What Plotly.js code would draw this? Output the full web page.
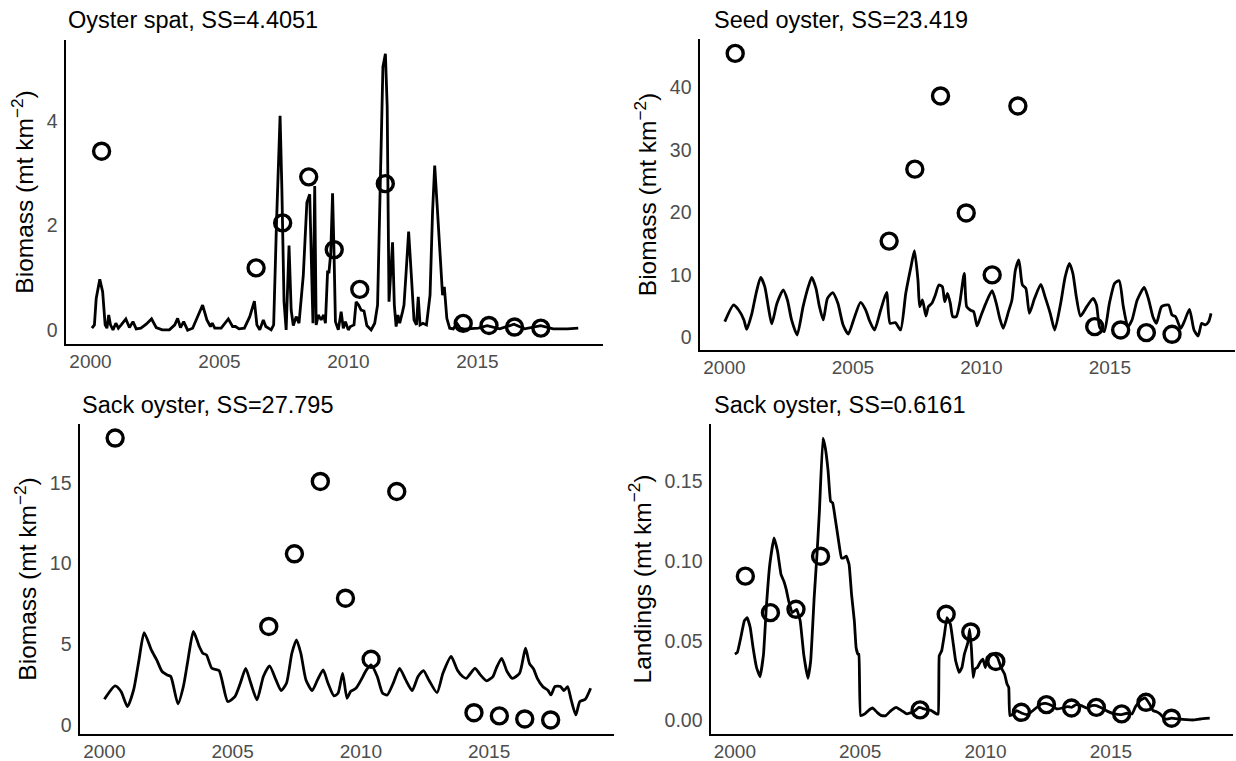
<!DOCTYPE html>
<html><head><meta charset="utf-8">
<script src="https://cdn.plot.ly/plotly-3.0.1.min.js"></script>
<style>html,body{margin:0;padding:0;background:#fff;}#chart{width:1236px;height:761px;}</style>
</head><body><div id="chart"></div>
<script>
// ---------- Panel 1: Oyster spat (biomass) ----------
const spatLineYear = [2000.055,2000.152,2000.221,2000.360,2000.471,2000.568,2000.637,2000.706,2000.775,2000.872,2000.983,2001.080,2001.190,2001.370,2001.509,2001.647,2001.772,2001.952,2002.159,2002.367,2002.547,2002.782,2003.059,2003.267,2003.378,2003.488,2003.613,2003.765,2003.959,2004.167,2004.347,2004.513,2004.651,2004.720,2004.817,2005.066,2005.343,2005.509,2005.620,2005.759,2005.966,2006.174,2006.354,2006.451,2006.562,2006.700,2006.797,2007.004,2007.101,2007.212,2007.281,2007.350,2007.420,2007.503,2007.586,2007.697,2007.780,2007.863,2007.973,2008.084,2008.250,2008.389,2008.499,2008.569,2008.624,2008.693,2008.749,2008.832,2008.942,2009.039,2009.108,2009.191,2009.247,2009.316,2009.385,2009.441,2009.496,2009.607,2009.718,2009.801,2009.884,2009.994,2010.078,2010.216,2010.299,2010.396,2010.493,2010.604,2010.714,2010.880,2011.019,2011.130,2011.226,2011.337,2011.434,2011.503,2011.573,2011.642,2011.711,2011.780,2011.849,2011.919,2011.988,2012.099,2012.154,2012.237,2012.334,2012.431,2012.542,2012.638,2012.707,2012.777,2012.888,2013.026,2013.164,2013.261,2013.345,2013.441,2013.580,2013.649,2013.718,2013.815,2013.926,2014.064,2014.203,2014.341,2014.480,2015.033,2015.379,2015.864,2016.418,2016.833,2017.456,2017.940,2018.494,2018.910];
const spatLineValue = [0.038,0.101,0.607,0.973,0.733,0.101,0.038,0.291,0.101,0.006,0.133,0.038,0.101,0.215,0.051,0.164,0.025,0.038,0.114,0.215,0.051,0.006,0.006,0.101,0.227,0.051,0.164,0.0,0.038,0.291,0.480,0.196,0.070,0.133,0.038,0.038,0.215,0.070,0.070,0.025,0.038,0.259,0.556,0.101,0.006,0.196,0.070,0.006,0.101,2.060,3.008,4.095,2.692,0.543,0.006,1.618,0.385,0.088,0.259,0.133,1.049,2.439,2.597,1.112,0.133,2.755,0.101,0.291,0.196,0.291,0.133,1.112,1.112,1.491,2.616,1.491,0.164,0.006,0.354,0.038,0.164,0.006,0.070,0.101,0.543,0.480,0.385,0.367,0.088,0.006,0.133,0.480,2.818,5.030,5.283,4.272,0.543,1.112,1.681,0.480,0.070,0.291,0.133,0.354,0.480,1.112,1.883,1.112,0.196,0.101,0.638,0.101,0.133,0.101,0.670,2.250,3.147,2.376,1.239,0.670,0.828,0.227,0.038,0.025,0.133,0.038,0.019,0.038,0.088,0.025,0.114,0.025,0.088,0.025,0.025,0.038];
const spatObsYear = [2000.43,2006.42,2007.45,2008.46,2009.45,2010.44,2011.43,2014.45,2015.45,2016.44,2017.46];
const spatObsValue = [3.42,1.19,2.05,2.93,1.54,0.78,2.80,0.13,0.09,0.06,0.04];

// ---------- Panel 2: Seed oyster (biomass) ----------
const seedLineYear = [2000.014,2000.352,2000.555,2000.759,2000.867,2001.070,2001.233,2001.409,2001.571,2001.707,2001.842,2002.046,2002.289,2002.452,2002.614,2002.831,2003.061,2003.265,2003.400,2003.563,2003.698,2003.847,2004.010,2004.213,2004.416,2004.619,2004.822,2005.026,2005.297,2005.500,2005.635,2005.838,2006.082,2006.312,2006.448,2006.651,2006.854,2007.058,2007.261,2007.396,2007.532,2007.600,2007.708,2007.843,2007.938,2008.073,2008.209,2008.345,2008.480,2008.575,2008.683,2008.791,2008.886,2009.022,2009.157,2009.333,2009.428,2009.563,2009.699,2009.834,2009.970,2010.173,2010.417,2010.580,2010.715,2010.850,2011.054,2011.189,2011.325,2011.460,2011.596,2011.731,2011.867,2012.070,2012.314,2012.476,2012.679,2012.855,2013.086,2013.262,2013.424,2013.560,2013.695,2013.858,2014.102,2014.346,2014.481,2014.603,2014.779,2014.982,2015.185,2015.361,2015.524,2015.700,2015.862,2016.065,2016.337,2016.513,2016.675,2016.811,2017.014,2017.285,2017.420,2017.556,2017.759,2017.895,2018.098,2018.274,2018.436,2018.572,2018.707,2018.843,2018.938];
const seedLineValue = [2.53,5.19,4.39,2.80,1.30,3.86,7.06,9.61,8.12,4.93,2.16,5.46,7.59,5.99,2.80,0.40,4.93,8.12,9.61,7.85,4.93,2.80,6.26,7.16,5.46,2.00,0.56,2.80,5.62,4.39,2.80,1.20,4.39,7.22,2.26,2.37,1.20,7.06,11.32,13.87,9.19,4.93,5.99,3.43,4.93,5.46,6.79,8.39,8.12,5.72,7.06,5.46,3.33,3.33,5.46,10.25,4.93,4.39,4.13,1.84,3.33,5.46,7.48,5.46,3.06,1.46,4.13,5.99,10.78,12.38,8.39,7.85,3.86,6.26,8.49,6.52,3.86,1.20,5.46,9.72,11.85,10.25,6.52,3.43,4.93,6.26,5.19,1.62,0.93,5.46,8.65,9.08,4.93,1.73,2.80,5.99,8.01,5.99,3.33,2.26,4.93,5.19,3.59,3.33,1.46,2.53,4.50,1.20,0.24,2.26,2.00,2.53,3.86];
const seedObsYear = [2000.42,2006.41,2007.41,2008.41,2009.41,2010.42,2011.42,2014.41,2015.42,2016.42,2017.42];
const seedObsValue = [45.4,15.4,26.9,38.6,19.9,10.0,37.0,1.73,1.20,0.77,0.51];

// ---------- Panel 3: Sack oyster (biomass) ----------
const sackLineYear = [2000.00,2000.42,2000.65,2000.90,2001.14,2001.35,2001.55,2001.83,2002.04,2002.25,2002.45,2002.59,2002.87,2003.08,2003.26,2003.47,2003.70,2003.84,2003.98,2004.19,2004.47,2004.81,2005.09,2005.30,2005.51,2005.71,2005.95,2006.20,2006.44,2006.69,2006.89,2007.10,2007.31,2007.49,2007.66,2007.86,2008.10,2008.31,2008.53,2008.72,2008.95,2009.11,2009.29,2009.46,2009.60,2009.81,2010.01,2010.22,2010.40,2010.64,2010.85,2011.03,2011.26,2011.51,2011.75,2012.00,2012.23,2012.44,2012.65,2012.97,2013.20,2013.52,2013.76,2013.97,2014.11,2014.45,2014.66,2014.90,2015.15,2015.28,2015.49,2015.70,2015.91,2016.19,2016.42,2016.57,2016.74,2016.88,2017.09,2017.30,2017.41,2017.57,2017.78,2017.92,2018.06,2018.20,2018.38,2018.54,2018.75,2018.96];
const sackLineValue = [1.59,2.42,2.07,1.14,2.17,4.03,5.72,4.65,4.03,3.31,3.10,3.00,1.30,2.38,4.03,5.79,4.86,4.44,4.34,3.51,3.37,1.45,1.76,2.58,3.51,2.58,1.55,3.00,3.66,2.79,2.13,2.58,4.44,5.27,4.44,2.79,2.13,2.79,3.41,2.58,1.80,1.96,3.20,1.65,2.07,2.27,2.79,3.41,3.72,3.00,1.96,1.86,2.58,3.51,2.79,2.13,3.00,3.37,2.79,2.00,3.20,4.24,3.41,3.00,2.89,3.51,3.10,2.73,3.00,3.51,4.13,3.31,2.89,3.20,4.75,3.82,3.45,2.89,2.38,2.13,1.86,2.38,2.38,2.13,2.38,1.55,0.62,1.45,1.59,2.27];
const sackObsYear = [2000.42,2006.41,2007.41,2008.42,2009.40,2010.40,2011.40,2014.41,2015.40,2016.39,2017.40];
const sackObsValue = [17.77,6.10,10.60,15.08,7.85,4.07,14.46,0.76,0.56,0.37,0.31];

// ---------- Panel 4: Sack oyster (landings) ----------
const landLineYear = [2000.002,2000.100,2000.239,2000.378,2000.490,2000.615,2000.727,2000.866,2001.005,2001.145,2001.256,2001.395,2001.563,2001.702,2001.841,2001.953,2002.050,2002.148,2002.287,2002.468,2002.608,2002.747,2002.914,2003.026,2003.165,2003.277,2003.374,2003.513,2003.611,2003.722,2003.820,2003.904,2004.001,2004.140,2004.252,2004.349,2004.447,2004.558,2004.656,2004.767,2004.837,2004.907,2004.949,2005.018,2005.185,2005.325,2005.492,2005.673,2005.854,2006.021,2006.230,2006.439,2006.648,2006.857,2007.136,2007.345,2007.554,2007.833,2008.042,2008.112,2008.153,2008.251,2008.362,2008.460,2008.599,2008.697,2008.808,2008.948,2009.059,2009.157,2009.296,2009.366,2009.435,2009.505,2009.575,2009.672,2009.784,2009.895,2009.993,2010.062,2010.202,2010.341,2010.480,2010.620,2010.759,2010.857,2010.926,2010.968,2011.107,2011.247,2011.456,2011.665,2011.804,2012.013,2012.222,2012.403,2012.640,2012.849,2013.058,2013.267,2013.434,2013.615,2013.824,2014.033,2014.242,2014.423,2014.633,2014.870,2015.148,2015.427,2015.636,2015.845,2015.984,2016.193,2016.361,2016.542,2016.681,2016.820,2016.960,2017.169,2017.420,2017.727,2018.006,2018.285,2018.564,2018.943];
const landLineValue = [0.0417,0.0427,0.0521,0.0625,0.0646,0.0583,0.0458,0.0333,0.0275,0.0417,0.0708,0.0979,0.1146,0.1063,0.0917,0.0875,0.0823,0.0750,0.0677,0.0698,0.0625,0.0417,0.0265,0.0375,0.0771,0.1042,0.1313,0.1771,0.1708,0.1563,0.1375,0.1365,0.1271,0.1125,0.1021,0.1021,0.1031,0.0979,0.0792,0.0625,0.0458,0.0417,0.0417,0.0031,0.0042,0.0063,0.0079,0.0052,0.0031,0.0031,0.0063,0.0083,0.0063,0.0042,0.0056,0.0083,0.0073,0.0063,0.0042,0.0042,0.0406,0.0438,0.0542,0.0646,0.0604,0.0500,0.0375,0.0302,0.0333,0.0417,0.0490,0.0573,0.0458,0.0271,0.0323,0.0333,0.0365,0.0385,0.0333,0.0396,0.0417,0.0417,0.0396,0.0333,0.0292,0.0229,0.0208,0.0031,0.0042,0.0063,0.0046,0.0038,0.0052,0.0079,0.0104,0.0108,0.0094,0.0073,0.0079,0.0088,0.0083,0.0100,0.0094,0.0079,0.0094,0.0094,0.0079,0.0058,0.0042,0.0038,0.0046,0.0042,0.0088,0.0129,0.0142,0.0104,0.0063,0.0056,0.0042,0.0010,0.0015,0.0010,0.0006,0.0004,0.0010,0.0015];
const landObsYear = [2000.42,2001.42,2002.44,2003.42,2007.39,2008.43,2009.41,2010.41,2011.43,2012.43,2013.43,2014.42,2015.43,2016.40,2017.42];
const landObsValue = [0.0906,0.0677,0.0698,0.1031,0.0067,0.0667,0.0556,0.0371,0.0052,0.0100,0.0079,0.0083,0.0042,0.0115,0.0015];

const panelTitles = ['Oyster spat, SS=4.4051','Seed oyster, SS=23.419','Sack oyster, SS=27.795','Sack oyster, SS=0.6161'];
const yTitles = ['Biomass (mt km<sup>\u22122</sup>)','Biomass (mt km<sup>\u22122</sup>)','Biomass (mt km<sup>\u22122</sup>)','Landings (mt km<sup>\u22122</sup>)'];
const xTickVals = [2000,2005,2010,2015];
const yTickVals = [[0,2,4],[0,10,20,30,40],[0,5,10,15],[0,0.05,0.10,0.15]];
const yTickText = [['0','2','4'],['0','10','20','30','40'],['0','5','10','15'],['0.00','0.05','0.10','0.15']];

const W = 1236, H = 761;
const FONT = 'Liberation Sans, Arial, sans-serif';
// panel boxes in px: [left, right, top, bottom]
const boxes = [[66,603,40,344],[700,1235,39,350],[80,614,424,734],[711,1233,424,734]];
const yRanges = [[-0.264,5.545],[-2.0,47.7],[-0.56,18.64],[-0.0084,0.186]];
const xRange = [1999.05,2019.87];
const titlePos = [[66,20],[712,20],[80,405],[712,405]];
const lineShapes = [
  {shape:'linear'},
  {shape:'spline', smoothing:0.6},
  {shape:'spline', smoothing:0.6},
  {shape:'spline', smoothing:0.3}
];

const series = [
  [spatLineYear,spatLineValue,spatObsYear,spatObsValue],
  [seedLineYear,seedLineValue,seedObsYear,seedObsValue],
  [sackLineYear,sackLineValue,sackObsYear,sackObsValue],
  [landLineYear,landLineValue,landObsYear,landObsValue]
];

const traces = [];
const layout = {
  width: W, height: H, margin:{l:0,r:0,t:0,b:0},
  paper_bgcolor:'#ffffff', plot_bgcolor:'#ffffff',
  showlegend:false, font:{family:FONT, color:'#000'},
  annotations: []
};

series.forEach((s,i)=>{
  const n = i===0 ? '' : String(i+1);
  const xa = 'x'+n, ya = 'y'+n;
  traces.push({x:s[2], y:s[3], xaxis:xa, yaxis:ya, type:'scatter', mode:'markers',
    marker:{symbol:'circle-open', size:16, color:'#000', line:{width:3.4, color:'#000'}}, hoverinfo:'x+y'});
  traces.push({x:s[0], y:s[1], xaxis:xa, yaxis:ya, type:'scatter', mode:'lines',
    line:Object.assign({color:'#000', width:2.8}, lineShapes[i]), hoverinfo:'x+y'});
  const b = boxes[i];
  layout['xaxis'+n] = {
    domain:[b[0]/W, b[1]/W], range:xRange, anchor:ya,
    showline:true, linecolor:'#000', linewidth:1.6, mirror:false,
    showgrid:false, zeroline:false, ticks:'', ticklabelstandoff:0,
    tickvals:xTickVals, ticktext:xTickVals.map(String),
    tickfont:{size:19, color:'#4d4d4d', family:FONT}
  };
  layout['yaxis'+n] = {
    domain:[1-b[3]/H, 1-b[2]/H], range:yRanges[i], anchor:xa,
    showline:true, linecolor:'#000', linewidth:1.6, mirror:false,
    showgrid:false, zeroline:false, ticks:'', ticklabelstandoff:3,
    tickvals:yTickVals[i], ticktext:yTickText[i],
    tickfont:{size:19.5, color:'#4d4d4d', family:FONT},
    title:{text:yTitles[i], font:{size:24.5, color:'#000', family:FONT}, standoff:6}
  };
  layout.annotations.push({text:panelTitles[i], xref:'paper', yref:'paper',
    x:titlePos[i][0]/W, y:1-titlePos[i][1]/H, xanchor:'left', yanchor:'middle',
    showarrow:false, font:{size:23.5, color:'#000', family:FONT}});
});

Plotly.newPlot('chart', traces, layout, {displayModeBar:false, staticPlot:true});
</script>
</body></html>
